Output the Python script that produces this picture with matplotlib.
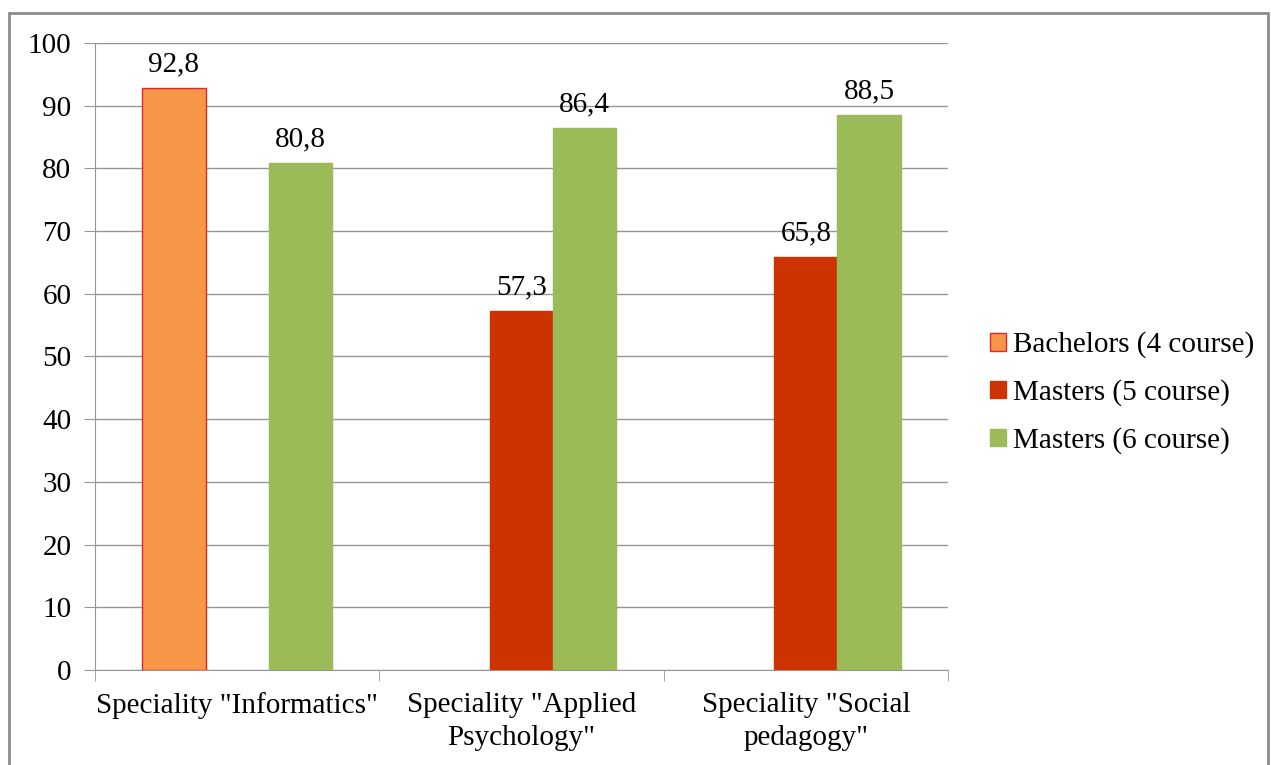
import numpy as np
import matplotlib
matplotlib.use("Agg")
import matplotlib.pyplot as plt
from matplotlib.patches import Rectangle

plt.rcParams["font.family"] = ["Liberation Serif", "DejaVu Serif"]

categories = ['Speciality "Informatics"', 'Speciality "Applied\nPsychology"',
              'Speciality "Social\npedagogy"']
series_names = ["Bachelors (4 course)", "Masters (5 course)", "Masters (6 course)"]
bachelors = [92.8, np.nan, np.nan]
masters5 = [np.nan, 57.3, 65.8]
masters6 = [80.8, 86.4, 88.5]

colors = ["#F79646", "#CC3300", "#9BBB59"]
edges = ["#E0262A", "#CC3300", "#9BBB59"]
FS = 21

fig = plt.figure(figsize=(12.71, 7.65), dpi=100)
ax = fig.add_axes([0.0747, 0.1242, 0.6712, 0.8196])

x = np.arange(len(categories))
w = 0.222
offsets = [-w, 0, w]
for vals, off, name, c, ec in zip([bachelors, masters5, masters6], offsets,
                                  series_names, colors, edges):
    ax.bar(x + off, vals, width=w, color=c, edgecolor=ec, linewidth=1,
           label=name, zorder=3)
    for xi, v in zip(x + off, vals):
        if not np.isnan(v):
            ax.text(xi, v + 1.7, f"{v:.1f}".replace(".", ","), ha="center",
                    va="bottom", fontsize=FS)

ax.set_ylim(0, 100)
ax.set_xlim(-0.5, 2.5)
ax.set_yticks(range(0, 101, 10))
ax.yaxis.grid(True, color="#969696", linewidth=1, zorder=0)
ax.set_axisbelow(True)
ax.tick_params(axis="y", labelsize=FS, length=8, color="#969696", pad=9)

ax.set_xticks(x)
ax.set_xticklabels(categories, fontsize=FS, linespacing=1.35)
ax.tick_params(axis="x", which="major", length=0, pad=16)
ax.set_xticks([-0.5, 0.5, 1.5, 2.5], minor=True)
ax.tick_params(axis="x", which="minor", length=8, color="#969696")

for s in ["top", "right"]:
    ax.spines[s].set_visible(False)
for s in ["left", "bottom"]:
    ax.spines[s].set_color("#969696")

ax.legend(loc="center left", bbox_to_anchor=(1.049, 0.442), frameon=False,
          fontsize=FS, handlelength=0.55, handleheight=0.55, handletextpad=0.25,
          labelspacing=0.72, borderpad=0, borderaxespad=0)

fig.patches.append(Rectangle((9 / 1271, -0.05), 1259 / 1271, 1 - 13 / 765 + 0.05,
                             transform=fig.transFigure, fill=False,
                             edgecolor="#8C8C8C", linewidth=2))

fig.savefig("out.png", dpi=100)
